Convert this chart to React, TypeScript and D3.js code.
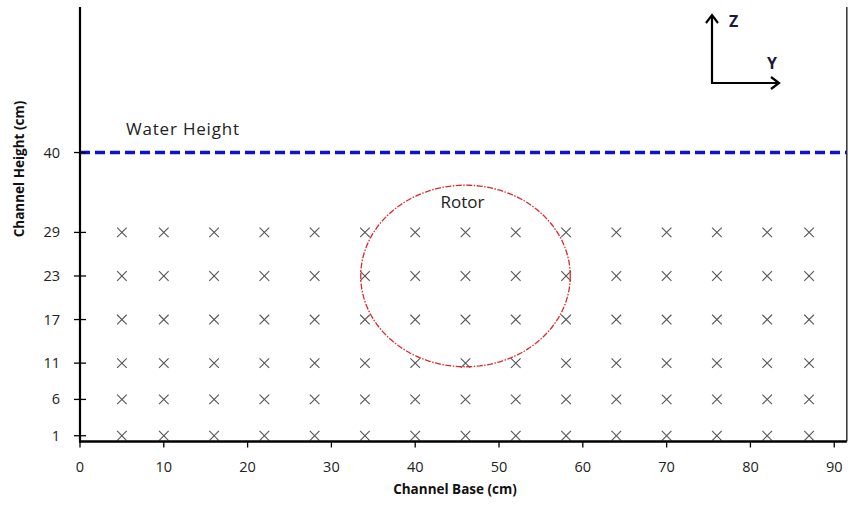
import React from "react";
import * as d3 from "d3";

const xPositions = [5, 10, 16, 22, 28, 34, 40, 46, 52, 58, 64, 70, 76, 82, 87];
const zLevels = [1, 6, 11, 17, 23, 29];
const xTicks = [0, 10, 20, 30, 40, 50, 60, 70, 80, 90];
const yTicks = [1, 6, 11, 17, 23, 29, 40];
const waterHeight = 40;
const rotorCenter = [46, 23];
const rotorRadius = 12.5;

const W = 851;
const H = 505;
const FONT = "'Open Sans', 'Liberation Sans', sans-serif";

export default function App() {
  const x = d3.scaleLinear().domain([0, 91.5]).range([80, 846.8]);
  const y = d3.scaleLinear().domain([0, 60]).range([443, 7.3]);
  const x0 = x(0);
  const yAxis = 441.5;

  const points: [number, number][] = [];
  zLevels.forEach((z) => xPositions.forEach((p) => points.push([p, z])));

  const ellipse = d3
    .line<number>()
    .x((t) => x(rotorCenter[0] + rotorRadius * Math.cos(t)))
    .y((t) => y(rotorCenter[1] + rotorRadius * Math.sin(t)))
    .curve(d3.curveLinearClosed)(d3.range(0, Math.PI * 2, Math.PI / 90));

  const s = 4.8;
  return (
    <svg
      width={W}
      height={H}
      style={{ position: "absolute", left: 0, top: 0, background: "#fff" }}
      fontFamily={FONT}
    >
      {/* right border */}
      <line x1={x(91.5)} x2={x(91.5)} y1={7} y2={yAxis} stroke="#333" strokeWidth={1.5} />

      {/* markers */}
      {points.map(([px, pz], i) => (
        <g key={i} stroke="#555" strokeWidth={1.1}>
          <line x1={x(px) - s} x2={x(px) + s} y1={y(pz) - s} y2={y(pz) + s} />
          <line x1={x(px) - s} x2={x(px) + s} y1={y(pz) + s} y2={y(pz) - s} />
        </g>
      ))}

      {/* rotor */}
      <path d={ellipse || ""} fill="none" stroke="#e0262b" strokeWidth={1.3} strokeDasharray="6 1.5 1.5 1.5" />
      <text x={x(rotorCenter[0]) - 3} y={y(rotorCenter[1] + 9.4)} fontSize={17} textAnchor="middle" fill="#222">
        Rotor
      </text>

      {/* water line */}
      <line
        x1={x0}
        x2={x(91.5)}
        y1={y(waterHeight)}
        y2={y(waterHeight)}
        stroke="#1010d0"
        strokeWidth={3.5}
        strokeDasharray="10 5"
      />
      <text x={126} y={y(waterHeight) - 18} fontSize={17} fill="#222" letterSpacing={0.8}>
        Water Height
      </text>

      {/* y axis */}
      <line x1={x0} x2={x0} y1={7} y2={yAxis + 1} stroke="#000" strokeWidth={2.2} />
      {yTicks.map((t) => (
        <g key={t}>
          <line x1={x0 - 6} x2={x0 + 6} y1={y(t)} y2={y(t)} stroke="#000" strokeWidth={1.3} />
          <text x={60} y={y(t) + 5} fontSize={14.5} textAnchor="end" fill="#222">
            {t}
          </text>
        </g>
      ))}

      {/* x axis */}
      <line x1={x0 - 1} x2={x(91.5)} y1={yAxis} y2={yAxis} stroke="#000" strokeWidth={2.5} />
      {xTicks.map((t) => (
        <g key={t}>
          <line x1={x(t)} x2={x(t)} y1={yAxis} y2={yAxis + 6} stroke="#000" strokeWidth={1.3} />
          <text x={x(t)} y={yAxis + 30} fontSize={14.5} textAnchor="middle" fill="#222">
            {t}
          </text>
        </g>
      ))}

      {/* axis titles */}
      <text x={455} y={494} fontSize={13.5} fontWeight="bold" textAnchor="middle" fill="#111">
        Channel Base (cm)
      </text>
      <text
        transform={`translate(24,${169}) rotate(-90)`}
        fontSize={13.5}
        fontWeight="bold"
        textAnchor="middle"
        fill="#111"
      >
        Channel Height (cm)
      </text>

      {/* coordinate indicator */}
      <g stroke="#000" strokeWidth={2.2} fill="none">
        <line x1={712} x2={712} y1={83} y2={15} />
        <line x1={711} x2={779} y1={83} y2={83} />
        <polyline points="706,23 712,15 718,23" />
        <polyline points="771,77 779,83 771,89" />
      </g>
      <text x={729} y={27} fontSize={16} fontWeight="bold" fill="#1a1a3a">
        Z
      </text>
      <text x={767} y={69} fontSize={16} fontWeight="bold" fill="#1a1a3a">
        Y
      </text>
    </svg>
  );
}
